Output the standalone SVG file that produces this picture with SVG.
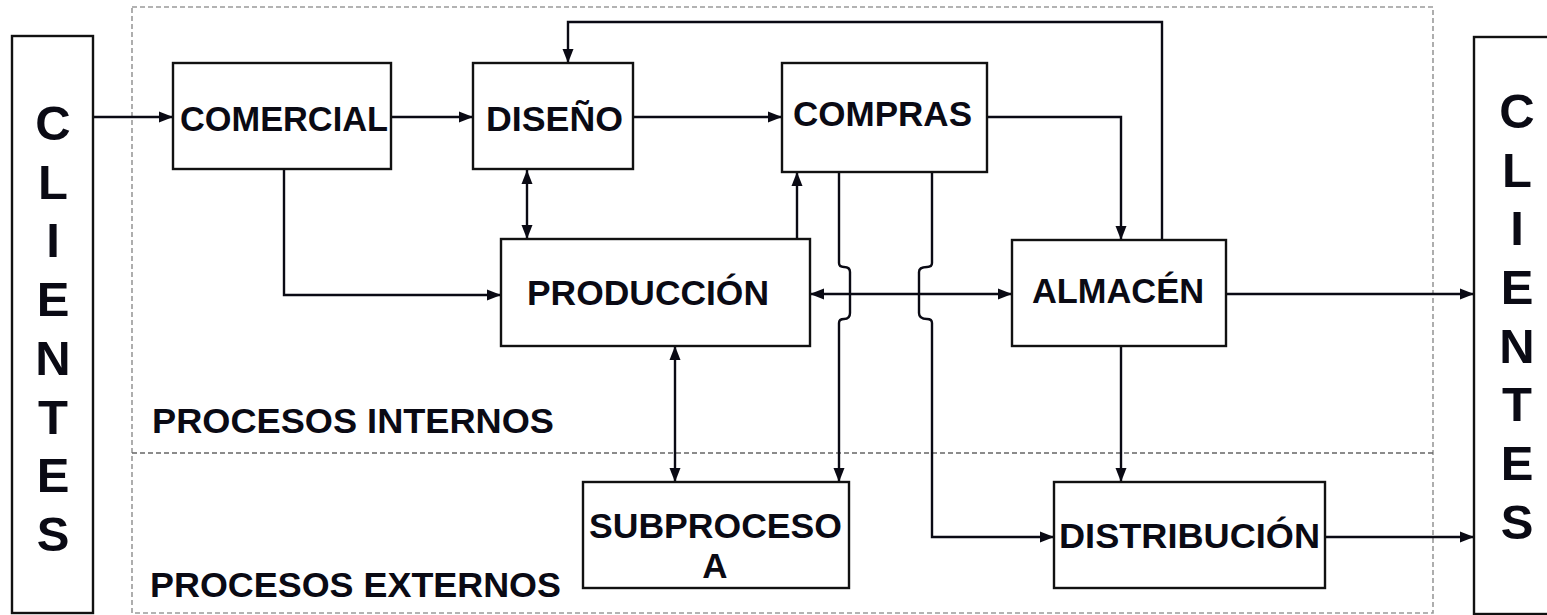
<svg xmlns="http://www.w3.org/2000/svg" width="1547" height="615" viewBox="0 0 1547 615">
<style>
.box{fill:#fff;stroke:#111;stroke-width:2.4}
.lbl{font-family:"Liberation Sans",Arial,sans-serif;font-weight:bold;font-size:35px;fill:#0a0a14}
.big{font-family:"Liberation Sans",Arial,sans-serif;font-weight:bold;font-size:49px;fill:#0a0a14;text-anchor:middle}
.zone{fill:none;stroke:#9a9a9a;stroke-width:1.6;stroke-dasharray:5 3}
.sep{fill:none;stroke:#666;stroke-width:1.6;stroke-dasharray:5 3}
.c{fill:none;stroke:#0a0a14;stroke-width:2.4}
.a{marker-end:url(#ah)}
.aa{marker-start:url(#ah);marker-end:url(#ah)}
</style>
<defs>
<marker id="ah" markerUnits="userSpaceOnUse" markerWidth="16" markerHeight="14" refX="14" refY="7" orient="auto-start-reverse">
<path d="M0,1.5 L14,7 L0,12.5 Z" fill="#0a0a14"/>
</marker>
</defs>
<rect width="1547" height="615" fill="#fff"/>
<g id="zones">
<rect class="zone" x="132" y="7" width="1301" height="606"/>
<line class="sep" x1="132" y1="453" x2="1433" y2="453"/>
<text class="lbl" x="152" y="433" textLength="402" lengthAdjust="spacingAndGlyphs">PROCESOS INTERNOS</text>
<text class="lbl" x="150" y="597" textLength="411" lengthAdjust="spacingAndGlyphs">PROCESOS EXTERNOS</text>
</g>
<g id="connectors">
<line class="c a" x1="93" y1="117" x2="173" y2="117"/>
<line class="c a" x1="391" y1="117" x2="473" y2="117"/>
<line class="c a" x1="633" y1="117" x2="782" y2="117"/>
<path class="c a" d="M284,169 V295 H501"/>
<line class="c aa" x1="527" y1="170" x2="527" y2="239"/>
<line class="c a" x1="797" y1="239" x2="797" y2="172"/>
<path class="c a" d="M987,117 H1121 V240"/>
<path class="c a" d="M1162,240 V22 H568 V63"/>
<line class="c aa" x1="810" y1="294" x2="1012" y2="294"/>
<line class="c a" x1="1226" y1="294" x2="1474" y2="294"/>
<line class="c a" x1="1121" y1="346" x2="1121" y2="482"/>
<path class="c a" d="M839,172 V263 Q839,267 844,267 Q850,267 850,272 V313 Q850,319 844,319 Q839,319 839,323 V482"/>
<path class="c a" d="M932,172 V263 Q932,267 927,267 Q919,267 919,272 V313 Q919,319 927,319 Q932,319 932,323 V537 H1054"/>
<line class="c aa" x1="675" y1="346" x2="675" y2="482"/>
<line class="c a" x1="1325" y1="537" x2="1474" y2="537"/>
</g>
<g id="clientes-left">
<rect class="box" x="12" y="36" width="81" height="577"/>
<text class="big" x="53" y="140">C</text>
<text class="big" x="53" y="199">L</text>
<text class="big" x="53" y="257">I</text>
<text class="big" x="53" y="316">E</text>
<text class="big" x="53" y="375">N</text>
<text class="big" x="53" y="434">T</text>
<text class="big" x="53" y="492">E</text>
<text class="big" x="53" y="551">S</text>
</g>
<g id="clientes-right">
<rect class="box" x="1474" y="37" width="90" height="577"/>
<text class="big" x="1517" y="128">C</text>
<text class="big" x="1517" y="187">L</text>
<text class="big" x="1517" y="245">I</text>
<text class="big" x="1517" y="304">E</text>
<text class="big" x="1517" y="363">N</text>
<text class="big" x="1517" y="421">T</text>
<text class="big" x="1517" y="480">E</text>
<text class="big" x="1517" y="539">S</text>
</g>
<g id="comercial">
<rect class="box" x="173" y="63" width="218" height="106"/>
<text class="lbl" x="180" y="131" textLength="208" lengthAdjust="spacingAndGlyphs">COMERCIAL</text>
</g>
<g id="diseno">
<rect class="box" x="473" y="63" width="160" height="106"/>
<text class="lbl" x="486" y="131" textLength="137" lengthAdjust="spacingAndGlyphs">DISEÑO</text>
</g>
<g id="compras">
<rect class="box" x="782" y="63" width="205" height="109"/>
<text class="lbl" x="793" y="126" textLength="179" lengthAdjust="spacingAndGlyphs">COMPRAS</text>
</g>
<g id="produccion">
<rect class="box" x="501" y="239" width="309" height="107"/>
<text class="lbl" x="527" y="305" textLength="242" lengthAdjust="spacingAndGlyphs">PRODUCCIÓN</text>
</g>
<g id="almacen">
<rect class="box" x="1012" y="240" width="214" height="106"/>
<text class="lbl" x="1032" y="303" textLength="172" lengthAdjust="spacingAndGlyphs">ALMACÉN</text>
</g>
<g id="subproceso">
<rect class="box" x="583" y="482" width="266" height="106"/>
<text class="lbl" x="589" y="538" textLength="253" lengthAdjust="spacingAndGlyphs">SUBPROCESO</text>
<text class="lbl" x="715" y="578" text-anchor="middle">A</text>
</g>
<g id="distribucion">
<rect class="box" x="1054" y="482" width="271" height="106"/>
<text class="lbl" x="1059" y="548" textLength="261" lengthAdjust="spacingAndGlyphs">DISTRIBUCIÓN</text>
</g>
</svg>
